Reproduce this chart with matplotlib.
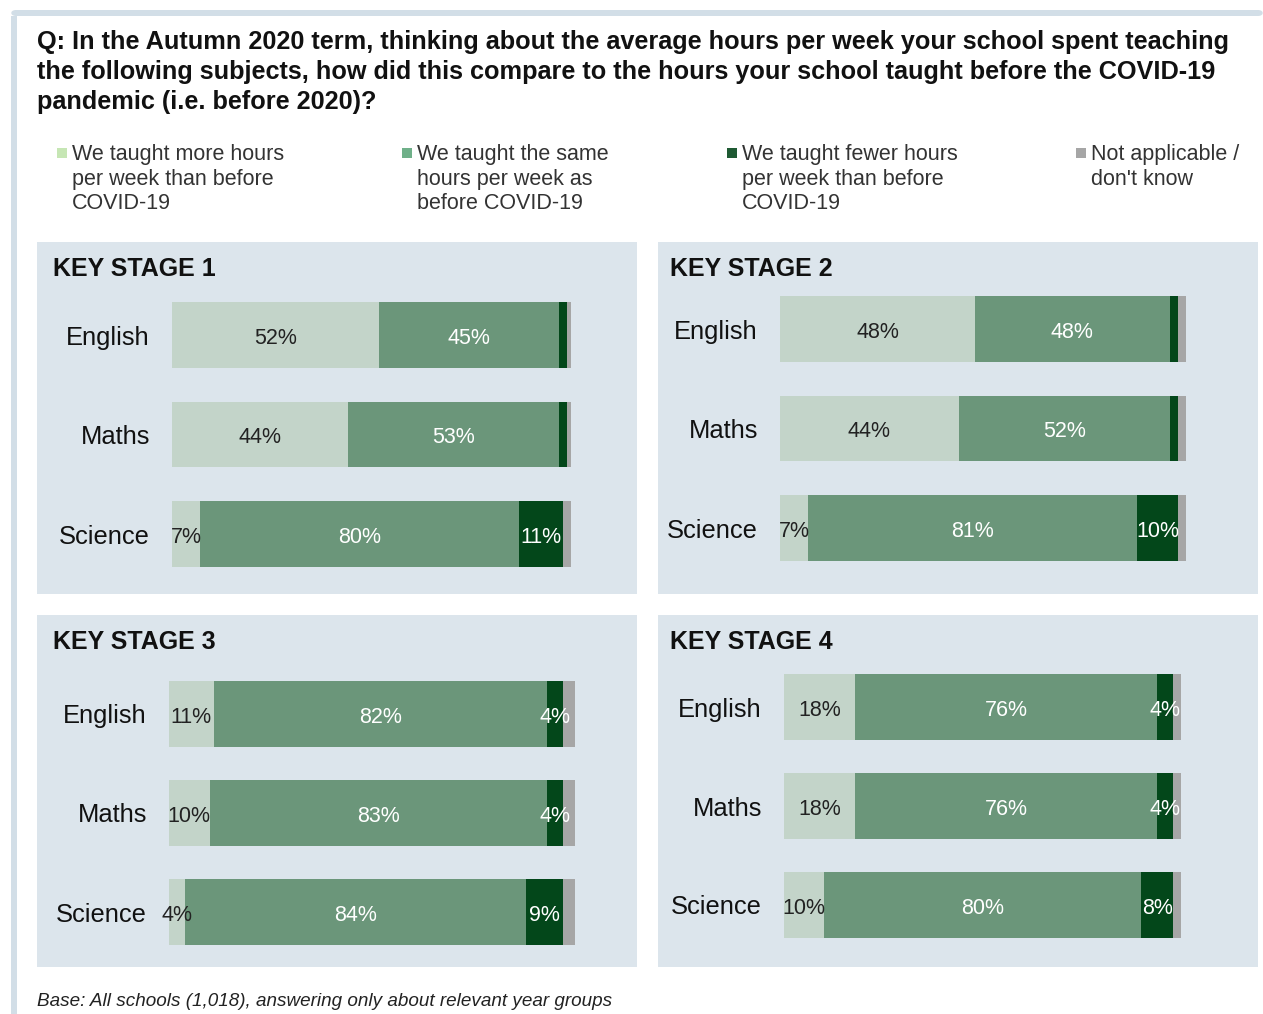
import matplotlib
matplotlib.use("Agg")
import matplotlib.pyplot as plt
from matplotlib.patches import Rectangle, FancyBboxPatch

plt.rcParams['font.family'] = ['Liberation Sans', 'DejaVu Sans']

W, H = 1263, 1014

# ---------------- data ----------------
subjects = ["English", "Maths", "Science"]
stages = ["KEY STAGE 1", "KEY STAGE 2", "KEY STAGE 3", "KEY STAGE 4"]
series_names = [
    "We taught more hours\nper week than before\nCOVID-19",
    "We taught the same\nhours per week as\nbefore COVID-19",
    "We taught fewer hours\nper week than before\nCOVID-19",
    "Not applicable /\ndon't know",
]
more = {
    "KEY STAGE 1": [52, 44, 7],
    "KEY STAGE 2": [48, 44, 7],
    "KEY STAGE 3": [11, 10, 4],
    "KEY STAGE 4": [18, 18, 10],
}
same = {
    "KEY STAGE 1": [45, 53, 80],
    "KEY STAGE 2": [48, 52, 81],
    "KEY STAGE 3": [82, 83, 84],
    "KEY STAGE 4": [76, 76, 80],
}
fewer = {
    "KEY STAGE 1": [2, 2, 11],
    "KEY STAGE 2": [2, 2, 10],
    "KEY STAGE 3": [4, 4, 9],
    "KEY STAGE 4": [4, 4, 8],
}
not_applicable = {
    "KEY STAGE 1": [1, 1, 2],
    "KEY STAGE 2": [2, 2, 2],
    "KEY STAGE 3": [3, 3, 3],
    "KEY STAGE 4": [2, 2, 2],
}

title = ("Q: In the Autumn 2020 term, thinking about the average hours per week your school spent teaching\n"
         "the following subjects, how did this compare to the hours your school taught before the COVID-19\n"
         "pandemic (i.e. before 2020)?")
footnote = "Base: All schools (1,018), answering only about relevant year groups"

# ---------------- styles ----------------
bar_colors = ["#c3d4c9", "#6b967a", "#03471a", "#a6a6a6"]
legend_colors = ["#c6e6b4", "#6fb089", "#1f5a33", "#a6a6a6"]
text_colors = ["#222222", "white", "white", "white"]
panel_bg = "#dce5ec"
frame_col = "#d2dee7"

fig = plt.figure(figsize=(W / 100, H / 100), dpi=100)
fig.patch.set_facecolor("white")


def fx(x):
    return x / W


def fy(y):
    return 1 - y / H


def add_ax(left, top, width, height, **kw):
    return fig.add_axes([left / W, 1 - (top + height) / H, width / W, height / H], **kw)


# frame
fig.add_artist(Rectangle((fx(11), fy(1014)), fx(6), 1014 / H - 16 / H,
                         transform=fig.transFigure, color=frame_col, lw=0, zorder=0))
fig.add_artist(FancyBboxPatch((fx(11), fy(16)), fx(1263 - 11), 6 / H,
                              boxstyle="round,pad=0,rounding_size=0.004",
                              transform=fig.transFigure, color=frame_col, lw=0, zorder=0))

# title
fig.text(fx(37), fy(30), title, ha="left", va="top", fontsize=18.2, fontweight="bold",
         color="#111111", linespacing=1.31)

# legend
leg_x = [57, 402, 727, 1076]
for i, name in enumerate(series_names):
    fig.add_artist(Rectangle((fx(leg_x[i]), fy(158)), fx(10), 10 / H,
                             transform=fig.transFigure, color=legend_colors[i], lw=0))
    fig.text(fx(leg_x[i] + 15), fy(144), name, ha="left", va="top", fontsize=15.5,
             color="#333333", linespacing=1.23)

# panels
panels = {
    "KEY STAGE 1": dict(px=37, py=242, tx=16, bar_l=172, bar_r=571, centers=[335, 435, 534]),
    "KEY STAGE 2": dict(px=658, py=242, tx=12, bar_l=780, bar_r=1186, centers=[329, 429, 528]),
    "KEY STAGE 3": dict(px=37, py=615, tx=16, bar_l=169, bar_r=575, centers=[714, 813, 912]),
    "KEY STAGE 4": dict(px=658, py=615, tx=12, bar_l=784, bar_r=1181, centers=[707, 806, 905]),
}
pw, ph = 600, 352

for st in stages:
    p = panels[st]
    fig.add_artist(Rectangle((fx(p["px"]), fy(p["py"] + ph)), pw / W, ph / H,
                             transform=fig.transFigure, color=panel_bg, lw=0, zorder=0))
    fig.text(fx(p["px"] + p["tx"]), fy(p["py"] + 27), st, ha="left", va="center",
             fontsize=18, fontweight="bold", color="#111111")
    c = p["centers"]
    step = (c[2] - c[0]) / 2
    top = c[0] - step / 2
    ax = add_ax(p["bar_l"], top, p["bar_r"] - p["bar_l"], step * 3)
    ax.set_facecolor("none")
    vals = [more[st], same[st], fewer[st], not_applicable[st]]
    ypos = [0, 1, 2]
    left = [0, 0, 0]
    for k in range(4):
        bars = ax.barh(ypos, vals[k], left=left, height=0.66, color=bar_colors[k], lw=0)
        for j, b in enumerate(bars):
            v = vals[k][j]
            if k < 3 and v >= 4:
                ax.text(left[j] + v / 2, ypos[j] + 0.01, f"{v}%", ha="center", va="center_baseline",
                        fontsize=15.5, color=text_colors[k])
        left = [left[j] + vals[k][j] for j in range(3)]
    tot = max(left)
    ax.set_xlim(0, tot)
    ax.set_ylim(2.5, -0.5)
    ax.set_yticks(ypos)
    ax.set_yticklabels(subjects, fontsize=18.4, color="#111111")
    ax.tick_params(axis="y", length=0, pad=16)
    ax.set_xticks([])
    for s in ax.spines.values():
        s.set_visible(False)

fig.text(fx(37), fy(1002), footnote, ha="left", va="center", fontsize=13.6,
         style="italic", color="#222222")

fig.savefig("out.png", dpi=100)
